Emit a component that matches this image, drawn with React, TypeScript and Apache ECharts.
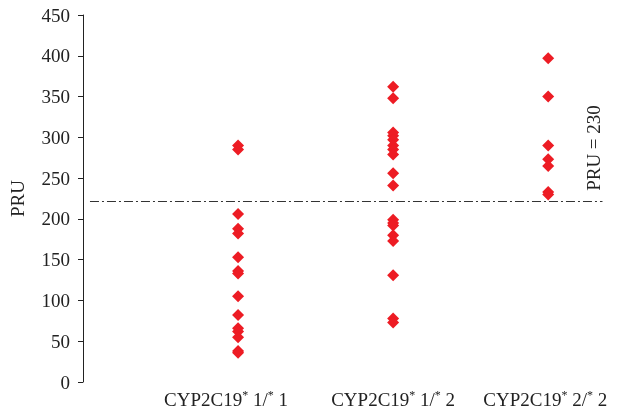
import React, { useEffect, useRef } from "react";
import * as echarts from "echarts";

const categories = ["CYP2C19*1/*1", "CYP2C19*1/*2", "CYP2C19*2/*2"];
const group11 = [290, 285, 206, 188, 182, 153, 136, 133, 105, 82, 66, 62, 55, 38, 36];
const group12 = [362, 348, 306, 302, 297, 290, 285, 279, 256, 241, 199, 195, 192, 180, 173, 131, 78, 73];
const group22 = [397, 350, 290, 273, 265, 233, 230];
const thresholdValue = 222;
const thresholdLabel = "PRU = 230";
const yTicks = [0, 50, 100, 150, 200, 250, 300, 350, 400, 450];

const FONT = "'Liberation Serif', 'Times New Roman', serif";

export default function App() {
  const ref = useRef<HTMLDivElement>(null);
  useEffect(() => {
    if (!ref.current) return;
    const chart = echarts.init(ref.current, null, { renderer: "svg" });
    const groups = [group11, group12, group22];
    const data: number[][] = [];
    groups.forEach((g, i) => g.forEach((v) => data.push([i + 1, v])));
    const labelRich = (cat: string, idx: number) => {
      const m = cat.match(/^(.*)\*(.*)\/\*(.*)$/);
      if (!m) return cat;
      const n = idx === 0 ? "n0" : "n";
      return `{${n}|${m[1]}}{s|*}{n| ${m[2]}/}{s|*}{e${idx}| ${m[3]}}`;
    };
    const base = { fontFamily: FONT, fontSize: 19, color: "#222", lineHeight: 20, verticalAlign: "bottom" };
    chart.setOption({
      animation: false,
      grid: { left: 81, right: 1, top: 15, bottom: 33, containLabel: false },
      xAxis: {
        type: "value",
        min: 0,
        max: 3.45,
        interval: 1,
        axisLine: { show: false },
        axisTick: { show: false },
        splitLine: { show: false },
        axisLabel: {
          margin: 7,
          showMaxLabel: false,
          formatter: (v: number) => {
            const i = Math.round(v) - 1;
            if (i < 0 || i >= categories.length || Math.abs(v - Math.round(v)) > 1e-6) return "";
            return labelRich(categories[i], i);
          },
          rich: {
            n: base,
            n0: base,
            e0: { ...base, padding: [0, 24, 0, 0] },
            e1: base,
            e2: { ...base, padding: [0, 6, 0, 0] },
            s: { fontFamily: FONT, fontSize: 12, color: "#222", lineHeight: 12, verticalAlign: "top" },
          },
        },
      },
      yAxis: {
        type: "value",
        min: 0,
        max: 450,
        interval: 50,
        name: "PRU",
        nameLocation: "middle",
        nameGap: 56,
        nameTextStyle: { fontFamily: FONT, fontSize: 19, color: "#222" },
        axisLine: { show: true, lineStyle: { color: "#222", width: 1 } },
        axisTick: { show: true, inside: false, length: 5, lineStyle: { color: "#222" } },
        splitLine: { show: false },
        axisLabel: {
          margin: 13,
          fontFamily: FONT,
          fontSize: 19,
          color: "#222",
          formatter: (v: number) => (yTicks.includes(v) ? String(v) : ""),
        },
      },
      series: [
        {
          type: "scatter",
          symbol: "diamond",
          symbolSize: 12,
          itemStyle: { color: "#ED1C24", opacity: 1 },
          data,
          markLine: {
            silent: true,
            symbol: "none",
            label: { show: false },
            lineStyle: { color: "#333", width: 1, type: [9, 3, 2, 3] },
            data: [
              [
                { coord: [0.045, thresholdValue] },
                { coord: [3.35, thresholdValue] },
              ],
            ],
          },
        },
      ],
      graphic: [
        {
          type: "text",
          x: 593,
          y: 148,
          rotation: Math.PI / 2,
          style: {
            text: thresholdLabel,
            fontFamily: FONT,
            fontSize: 19,
            fill: "#222",
            align: "center",
            verticalAlign: "middle",
          },
        },
      ],
    });
    return () => chart.dispose();
  }, []);
  return (
    <div
      ref={ref}
      style={{ position: "fixed", left: 0, top: 0, width: 619, height: 415 }}
    />
  );
}
